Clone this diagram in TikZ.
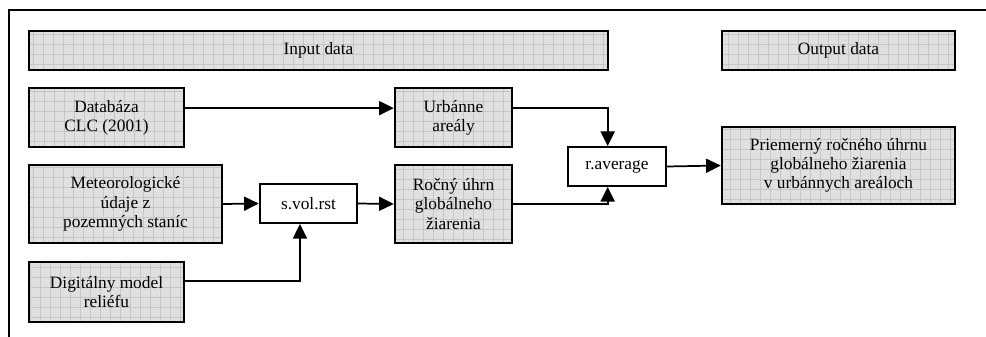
\documentclass[tikz,border=0pt]{standalone}
\usepackage{fontspec}
\setmainfont{Liberation Serif}
\usetikzlibrary{arrows.meta}

\tikzset{
    databox/.style = {draw, line width=1.6pt, fill=gray!24,
        align=center, inner sep=2pt,
        path picture={\draw [gray!45, line width=0.4pt]
            (path picture bounding box.south west) grid [step=7.5pt]
            (path picture bounding box.north east);}},
    toolbox/.style = {draw, line width=1.6pt, fill=white,
        align=center, inner sep=2pt},
    flow/.style = {line width=1.3pt, -{Triangle[length=11pt, width=10.5pt]}}
}

\begin{document}
\begin{tikzpicture} [x=0.75pt, y=-0.75pt,
    font=\fontsize{13}{14.4}\selectfont]
    % \draw [help lines] (0,0) grid (986,336);
    \useasboundingbox (0,0) rectangle (986,336);
    \draw [line width=1.5pt] (986,10) -- (9,10) -- (9,337);

    \node (inp) [databox, minimum width=434pt, minimum height=29pt]
        at (318.5,50.5) {Input data};
    \node (outp) [databox, minimum width=175pt, minimum height=29pt]
        at (838.5,50.5) {Output data};
    \node (clc) [databox, minimum width=116pt, minimum height=44pt]
        at (106.5,117.5) {Databáza\\CLC (2001)};
    \node (urb) [databox, minimum width=88pt, minimum height=44pt]
        at (453.5,117.5) {Urbánne\\areály};
    \node (met) [databox, minimum width=145pt, minimum height=58.5pt]
        at (125.5,204) {Meteorologické\\údaje z\\pozemných staníc};
    \node (svol) [toolbox, minimum width=73pt, minimum height=29pt]
        at (308.5,203.5) {s.vol.rst};
    \node (rocny) [databox, minimum width=88pt, minimum height=58.5pt]
        at (453.5,204) {Ročný úhrn\\globálneho\\žiarenia};
    \node (dmr) [databox, minimum width=116pt, minimum height=45pt]
        at (106.5,292) {Digitálny model\\reliéfu};
    \node (ravg) [toolbox, minimum width=73.5pt, minimum height=29pt]
        at (617,166.5) {r.average};
    \node (prim) [databox, minimum width=175pt, minimum height=58pt]
        at (838.5,165.5) {Priemerný ročného úhrnu\\globálneho žiarenia\\v urbánnych areáloch};

    \draw [flow] ([yshift=7pt]clc.east) -- ([yshift=7pt]urb.west);
    \draw [flow] ([yshift=7pt]urb.east) -| ([xshift=-7pt]ravg.north);
    \draw [flow] (rocny.east) -| ([xshift=-7pt]ravg.south);
    \draw [flow] (ravg.east) -- (prim.west);
    \draw [flow] (met.east) -- (svol.west);
    \draw [flow] (svol.east) -- (rocny.west);
    \draw [flow] ([yshift=8pt]dmr.east) -| ([xshift=-6.4pt]svol.south);
\end{tikzpicture}
\end{document}
